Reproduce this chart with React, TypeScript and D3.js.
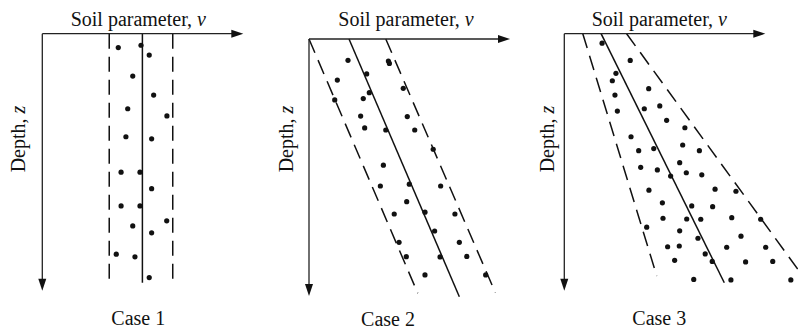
import React from "react";
import * as d3 from "d3";

// Soil parameter v and depth z, both in arbitrary units 0..10 along each axis.
type Dot = [number, number]; // [v, z]
type Trend = { dashed: boolean; v0: number; v1: number; z1: number };

const caseLabels = ["Case 1", "Case 2", "Case 3"];
const axisTitleX = "Soil parameter, ";
const axisSymbolX = "ν";
const axisTitleY = "Depth, ";
const axisSymbolY = "z";

// Case 1: constant mean, constant scatter
const case1Trends: Trend[] = [
  { dashed: true, v0: 3.33, v1: 3.33, z1: 9.69 },
  { dashed: false, v0: 4.98, v1: 4.98, z1: 9.69 },
  { dashed: true, v0: 6.49, v1: 6.49, z1: 9.69 },
];
const case1Dots: Dot[] = [
  [3.78, 0.54], [4.91, 0.45], [5.32, 0.83], [4.5, 1.65], [5.54, 2.39],
  [4.25, 2.92], [6.2, 3.2], [4.16, 4.01], [5.44, 4.09], [3.92, 5.39],
  [4.86, 5.39], [5.44, 6.03], [3.92, 6.7], [4.86, 6.7], [6.19, 7.28],
  [4.5, 7.48], [5.44, 7.75], [3.68, 8.58], [4.61, 8.68], [5.32, 9.49],
];

// Case 2: increasing mean, constant scatter
const case2Trends: Trend[] = [
  { dashed: true, v0: 0.0, v1: 5.41, z1: 9.89 },
  { dashed: false, v0: 1.99, v1: 7.48, z1: 10.03 },
  { dashed: true, v0: 3.82, v1: 9.27, z1: 9.87 },
];
const case2Dots: Dot[] = [
  [1.94, 0.83], [3.95, 0.86], [4.0, 0.95], [2.87, 1.36], [1.41, 1.6],
  [4.69, 1.92], [3.0, 2.09], [2.7, 2.32], [1.28, 2.37], [2.57, 3.0],
  [4.89, 3.02], [2.77, 3.46], [3.82, 3.54], [5.26, 3.54], [6.18, 4.29],
  [3.7, 4.91], [3.55, 5.72], [4.99, 5.65], [6.55, 5.72], [4.86, 6.33],
  [4.24, 6.81], [5.77, 6.74], [7.26, 6.81], [6.25, 7.47], [4.48, 7.91],
  [7.48, 7.91], [4.84, 8.47], [6.52, 8.48], [7.85, 8.46], [5.77, 9.18],
  [8.79, 9.18],
];

// Case 3: increasing mean, increasing scatter
const case3Trends: Trend[] = [
  { dashed: true, v0: 0.92, v1: 4.6, z1: 9.43 },
  { dashed: false, v0: 1.83, v1: 7.96, z1: 9.69 },
  { dashed: true, v0: 3.1, v1: 12.3, z1: 9.9 },
];
const case3Dots: Dot[] = [
  [1.88, 0.37], [3.28, 1.04], [2.57, 1.54], [2.39, 1.83], [4.2, 2.14],
  [2.52, 2.39], [4.75, 2.81], [3.98, 2.92], [2.64, 3.01], [5.09, 3.37],
  [6.0, 3.66], [3.32, 4.01], [5.89, 4.33], [4.45, 4.47], [3.7, 4.55],
  [6.72, 4.55], [5.74, 5.02], [3.8, 5.2], [4.63, 5.3], [6.07, 5.41],
  [6.84, 5.49], [5.29, 5.54], [4.21, 6.09], [7.5, 6.05], [8.54, 6.13],
  [4.88, 6.58], [6.34, 6.7], [7.38, 6.73], [4.91, 7.18], [6.09, 7.21],
  [6.79, 7.22], [8.33, 7.16], [9.77, 7.22], [4.1, 7.53], [5.74, 7.67],
  [8.79, 7.88], [6.65, 7.96], [5.14, 8.29], [5.72, 8.26], [8.08, 8.31],
  [10.02, 8.31], [7.01, 8.57], [5.49, 8.82], [7.36, 8.86], [9.02, 8.88],
  [10.37, 8.86], [6.44, 9.56], [8.29, 9.58], [11.27, 9.58],
];

const caseTrends = [case1Trends, case2Trends, case3Trends];
const caseDots = [case1Dots, case2Dots, case3Dots];

// Layout
const W = 798;
const H = 329;
const AXIS_W = 201;
const AXIS_H = 257;
const panelLayout = [
  { ox: 42.3, oy: 33.7, titleDx: 96, captionDx: 96, depthDx: -17 },
  { ox: 309, oy: 39, titleDx: 97, captionDx: 79, depthDx: -16 },
  { ox: 564.3, oy: 33.7, titleDx: 95, captionDx: 95, depthDx: -10 },
];
const FONT = "'Liberation Serif', 'Times New Roman', serif";
const FONT_SIZE = 20;
const INK = "#111";

const vScale = d3.scaleLinear().domain([0, 10]).range([0, AXIS_W]);
const zScale = d3.scaleLinear().domain([0, 10]).range([0, AXIS_H]);

export default function App() {
  const line = d3
    .line<Dot>()
    .x((d) => vScale(d[0]))
    .y((d) => zScale(d[1]));

  return (
    <svg
      width={W}
      height={H}
      viewBox={`0 0 ${W} ${H}`}
      style={{ position: "absolute", left: 0, top: 0, background: "#fff" }}
    >
      {panelLayout.map((p, i) => {
        const ax = AXIS_W;
        const az = AXIS_H;
        return (
          <g key={i} transform={`translate(${p.ox},${p.oy})`}>
            {/* trend lines */}
            {caseTrends[i].map((t, j) => (
              <path
                key={j}
                d={line([
                  [t.v0, 0],
                  [t.v1, t.z1],
                ]) as string}
                fill="none"
                stroke={INK}
                strokeWidth={1.5}
                strokeDasharray={t.dashed ? "15,8" : undefined}
              />
            ))}
            {/* observations */}
            {caseDots[i].map((d, j) => (
              <circle key={j} cx={vScale(d[0])} cy={zScale(d[1])} r={2.6} fill={INK} />
            ))}
            {/* axes */}
            <line x1={0} y1={0} x2={ax - 10} y2={0} stroke="#222" strokeWidth={1.3} />
            <path d={`M${ax},0 L${ax - 12},-4 L${ax - 12},4 Z`} fill="#111" />
            <line x1={0} y1={0} x2={0} y2={az - 10} stroke="#222" strokeWidth={1.3} />
            <path d={`M0,${az} L-4,${az - 12} L4,${az - 12} Z`} fill="#111" />
            {/* axis titles */}
            <text
              x={p.titleDx}
              y={26 - p.oy}
              textAnchor="middle"
              fontFamily={FONT}
              fontSize={FONT_SIZE}
              fill={INK}
            >
              {axisTitleX}
              <tspan fontStyle="italic">{axisSymbolX}</tspan>
            </text>
            <text
              transform={`translate(${p.depthDx},${139 - p.oy}) rotate(-90)`}
              textAnchor="middle"
              fontFamily={FONT}
              fontSize={FONT_SIZE}
              fill={INK}
            >
              {axisTitleY}
              <tspan fontStyle="italic">{axisSymbolY}</tspan>
            </text>
            <text
              x={p.captionDx}
              y={325.5 - p.oy}
              textAnchor="middle"
              fontFamily={FONT}
              fontSize={FONT_SIZE}
              fill={INK}
            >
              {caseLabels[i]}
            </text>
          </g>
        );
      })}
    </svg>
  );
}
